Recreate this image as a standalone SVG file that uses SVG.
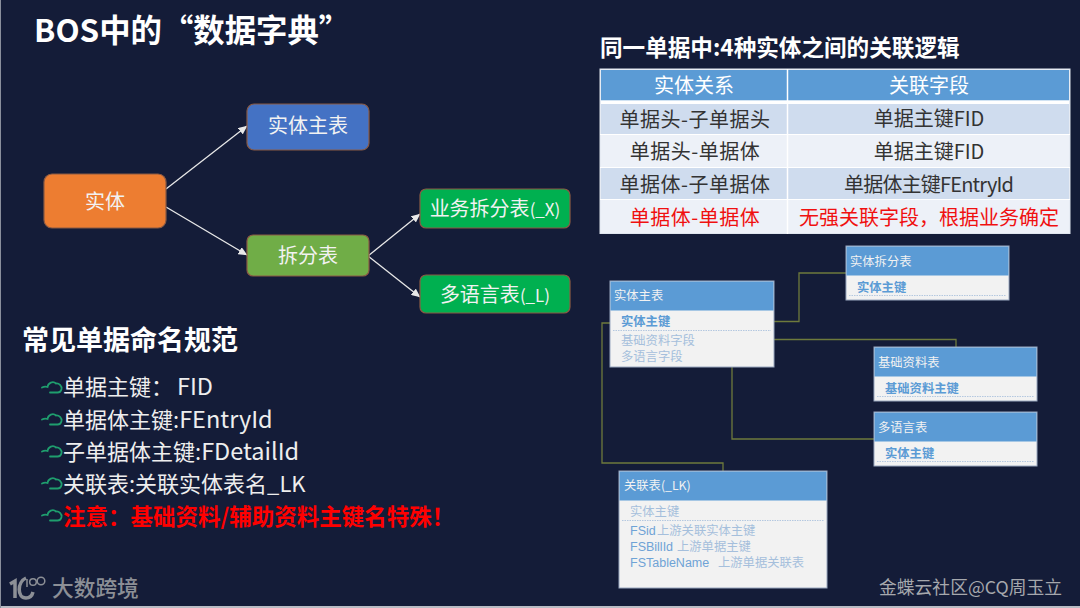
<svg xmlns="http://www.w3.org/2000/svg" width="1080" height="608" viewBox="0 0 1080 608">
<defs>
<marker id="arr" markerUnits="userSpaceOnUse" markerWidth="9" markerHeight="8" refX="8.5" refY="4" orient="auto"><path d="M0 0L9 4L0 8Z" fill="#e8e8e8"/></marker>
<symbol id="cloud" viewBox="0 0 22 14" width="22" height="14" overflow="visible"><path d="M1 7.500C3 6.500 5 6.500 6.500 7C7 3 12 0.500 15 3.500C18 3 21 6 20.500 9C20 11.500 18.500 12.500 16.500 12.500H9" fill="none" stroke="#1f9e6e" stroke-width="1.800" stroke-linecap="round"/></symbol>
</defs>
<style>
text{font-family:"Noto Sans CJK SC","Noto Sans",sans-serif}
.h{font-weight:700;fill:#fff}
.nd{fill:#f2f2f2;font-size:20px;text-anchor:middle}
.node{stroke:#8a5a44;stroke-width:1.200}
.b{font-size:22px;fill:#eeeeee}
.lat{font-size:23.500px}
.th{fill:#fff;font-size:20px;text-anchor:middle}
.td{fill:#333;font-size:20px;text-anchor:middle}
.red{fill:#f01010}
.card{fill:#f2f2f2;stroke:#9aa8c0;stroke-width:1}
.head{fill:#5b9bd5}
.ct{fill:#f2f2f2;font-size:12.300px}
.k{fill:#5b9bd5;font-size:12.300px;font-weight:700}
.f{fill:#a5bfdc;font-size:12.300px}
.fl{fill:#6fa3d6;font-size:12.500px;font-family:"Liberation Sans",sans-serif}
.sep{stroke:#b4c8e0;stroke-width:1;stroke-dasharray:1.500 1}
.conn{fill:none;stroke:#6e7a3c;stroke-width:1.300}
.arrow{fill:none;stroke:#e8e8e8;stroke-width:1.300;marker-end:url(#arr)}
</style>
<rect width="1080" height="608" fill="#141c38"/>
<rect x="0" y="606" width="1080" height="2" fill="#b9bcc4"/>
<rect x="0" y="0" width="1" height="608" fill="#8a8f9c"/>
<text class="h" x="34" y="42" font-size="31.400">BOS中的“数据字典”</text>
<text class="h" x="600" y="56" font-size="22.600">同一单据中:4种实体之间的关联逻辑</text>
<text class="h" x="22" y="350" font-size="27">常见单据命名规范</text>
<g id="connectors">
<path class="arrow" d="M166 189L247 126"/>
<path class="arrow" d="M166 207L247 255"/>
<path class="arrow" d="M368 256L420 214"/>
<path class="arrow" d="M368 256L420 297"/>
<path class="conn" d="M774 321.500H799V273H846"/>
<path class="conn" d="M774 339.500H956V347"/>
<path class="conn" d="M732 367V439H874"/>
<path class="conn" d="M610 323H602V463H723V471"/>
</g>
<g id="n-entity"><rect class="node" x="44" y="174" width="122" height="54" rx="8" fill="#ed7d31"/><text class="nd" x="105" y="209">实体</text></g>
<g id="n-main"><rect class="node" x="247" y="104" width="122" height="46" rx="7" fill="#4472c4"/><text class="nd" x="308" y="133">实体主表</text></g>
<g id="n-split"><rect class="node" x="247" y="235" width="122" height="41" rx="6" fill="#70ad47"/><text class="nd" x="308" y="263">拆分表</text></g>
<g id="n-bizsplit"><rect class="node" x="420" y="189" width="150" height="39" rx="6" fill="#00b050"/><text class="nd" x="495" y="216">业务拆分表<tspan font-size="17">(_X)</tspan></text></g>
<g id="n-lang"><rect class="node" x="420" y="275" width="150" height="38" rx="6" fill="#00b050"/><text class="nd" x="495" y="302">多语言表<tspan font-size="17">(_L)</tspan></text></g>
<g id="rules">
<use href="#cloud" x="41" y="380"/><text class="b" x="63" y="395">单据主键：<tspan class="lat" x="177">FID</tspan></text>
<use href="#cloud" x="41" y="412"/><text class="b" x="63" y="428">单据体主键:<tspan class="lat">FEntryId</tspan></text>
<use href="#cloud" x="41" y="444"/><text class="b" x="63" y="460">子单据体主键:<tspan class="lat">FDetailId</tspan></text>
<use href="#cloud" x="41" y="476"/><text class="b" x="63" y="492">关联表:关联实体表名_LK</text>
<use href="#cloud" x="41" y="508"/><text x="63" y="525" font-size="22.500" font-weight="700" fill="#ff0000">注意：基础资料/辅助资料主键名特殊！</text>
</g>
<g id="relation-table">
<rect x="600" y="69" width="470" height="164.500" fill="#edf1f8" stroke="#dfe5ee"/>
<rect x="601" y="70" width="468" height="30.500" fill="#5b9bd5"/>
<rect x="601" y="104" width="468" height="30" fill="#cfdcee"/>
<rect x="601" y="168" width="468" height="31" fill="#cfdcee"/>
<rect x="601" y="100.500" width="468" height="3.500" fill="#fff"/>
<path d="M787.500 69V234" stroke="#fff" stroke-width="1.500"/>
<path d="M600 134.500H1070M600 167.500H1070M600 199.500H1070" stroke="#fff" stroke-width="1"/>
<text class="th" x="694" y="93">实体关系</text><text class="th" x="929" y="93">关联字段</text>
<text class="td" x="695" y="127" letter-spacing="0.500">单据头-子单据头</text><text class="td" x="929" y="126">单据主键FID</text>
<text class="td" x="695" y="159" letter-spacing="0.500">单据头-单据体</text><text class="td" x="929" y="159">单据主键FID</text>
<text class="td" x="695" y="192" letter-spacing="0.500">单据体-子单据体</text><text class="td" x="929" y="192" textLength="170" lengthAdjust="spacing">单据体主键FEntryId</text>
<text class="td red" x="695" y="225" letter-spacing="0.500">单据体-单据体</text><text class="td red" x="929" y="225">无强关联字段，根据业务确定</text>
</g>
<g id="t-main"><rect class="card" x="610" y="281" width="164" height="86"/><rect class="head" x="610.500" y="281.500" width="163" height="29"/>
<text class="ct" x="614" y="300">实体主表</text><text class="k" x="621" y="326">实体主键</text><path class="sep" d="M613 330.500H771"/><text class="f" x="621" y="345">基础资料字段</text><text class="f" x="621" y="361">多语言字段</text></g>
<g id="t-split"><rect class="card" x="846" y="246" width="163" height="54"/><rect class="head" x="846.500" y="246.500" width="162" height="29"/>
<text class="ct" x="850" y="266">实体拆分表</text><text class="k" x="857" y="292">实体主键</text><path class="sep" d="M849 295.500H1006"/></g>
<g id="t-base"><rect class="card" x="874" y="347" width="163" height="54"/><rect class="head" x="874.500" y="347.500" width="162" height="29"/>
<text class="ct" x="878" y="367">基础资料表</text><text class="k" x="885" y="393">基础资料主键</text><path class="sep" d="M877 396.500H1034"/></g>
<g id="t-lang"><rect class="card" x="874" y="412" width="163" height="54"/><rect class="head" x="874.500" y="412.500" width="162" height="29"/>
<text class="ct" x="878" y="432">多语言表</text><text class="k" x="885" y="458">实体主键</text><path class="sep" d="M877 461.500H1034"/></g>
<g id="t-link"><rect class="card" x="619" y="471" width="208" height="117"/><rect class="head" x="619.500" y="471.500" width="207" height="29"/>
<text class="ct" x="624" y="490">关联表(_LK)</text><text class="f" x="630" y="516">实体主键</text><path class="sep" d="M622 520.500H824"/>
<text class="f" x="630" y="535"><tspan class="fl">FSid</tspan><tspan x="657">上游关联实体主键</tspan></text>
<text class="f" x="630" y="551"><tspan class="fl">FSBillId</tspan><tspan x="677">上游单据主键</tspan></text>
<text class="f" x="630" y="567"><tspan class="fl">FSTableName</tspan><tspan x="718">上游单据关联表</tspan></text></g>
<g id="logo" fill="none" stroke="#8c8f96"><path stroke-width="3.500" d="M10 584L15 581V598"/><path stroke-width="3.500" d="M26 578C17 582 17 598 26 598C29 598 32 596 33 592"/><path stroke-width="1.500" d="M27 579V587"/><circle cx="33" cy="582" r="3.300" stroke-width="1.500"/><circle cx="41" cy="581" r="3.800" stroke-width="1.500"/></g>
<text x="52" y="596" font-size="21.700" font-weight="500" fill="#8c8f96">大数跨境</text>
<text x="879" y="594" font-size="17.800" fill="#a6a8ad">金蝶云社区@CQ周玉立</text>
</svg>
